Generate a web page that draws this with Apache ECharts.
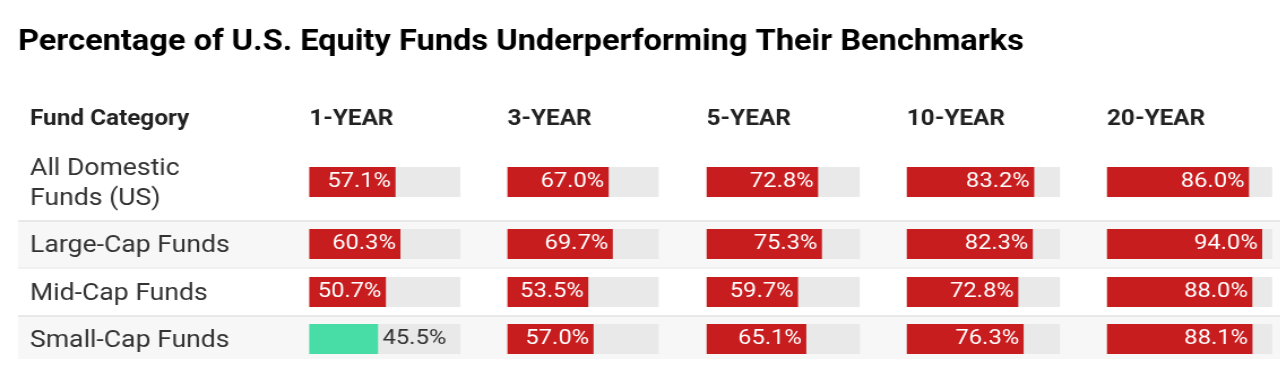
<!DOCTYPE html>
<html>
<head>
<meta charset="utf-8">
<script src="https://cdn.jsdelivr.net/npm/echarts@6/dist/echarts.min.js"></script>
<style>
  html, body { margin: 0; padding: 0; background: #ffffff; overflow: hidden; }
  #wrap { width: 1280px; height: 370px; overflow: hidden; }
  #chart { height: 370px; transform-origin: 0 0; }
</style>
</head>
<body>
<div id="wrap"><div id="chart"></div></div>
<script>
// ---- data ----
const chartTitle = 'Percentage of U.S. Equity Funds Underperforming Their Benchmarks';
const categoryHeader = 'Fund Category';
const categories = ['All Domestic\nFunds (US)', 'Large-Cap Funds', 'Mid-Cap Funds', 'Small-Cap Funds'];
const periods = ['1-YEAR', '3-YEAR', '5-YEAR', '10-YEAR', '20-YEAR'];
const oneYear = [57.1, 60.3, 50.7, 45.5];
const threeYear = [67.0, 69.7, 53.5, 57.0];
const fiveYear = [72.8, 75.3, 59.7, 65.1];
const tenYear = [83.2, 82.3, 72.8, 76.3];
const twentyYear = [86.0, 94.0, 88.0, 88.1];
const threshold = 50;

// ---- layout (reference pixels; text in the reference is drawn slightly wide) ----
const S = 1.13;                       // horizontal stretch of the whole picture
const W = 1280 / S;
const sx = v => v / S;
const seriesByPeriod = [oneYear, threeYear, fiveYear, tenYear, twentyYear];
const colLeft = [309, 507, 706, 906, 1106];
const colWidth = [151, 151, 153, 153, 165];
const rowTop = [167, 229, 277, 324];
const barH = 30;
const labelX = 30;
const FONT = 'Roboto, "Noto Sans", sans-serif';
const RED = '#c71d1f';
const GREEN = '#48dca6';

const el = document.getElementById('chart');
el.style.width = W + 'px';
el.style.transform = 'scaleX(' + S + ')';

const grids = [], xAxes = [], yAxes = [], series = [];
let gi = 0;
for (let r = 0; r < categories.length; r++) {
  for (let c = 0; c < periods.length; c++) {
    grids.push({ left: sx(colLeft[c]), top: rowTop[r], width: sx(colWidth[c]), height: barH, show: false });
    xAxes.push({ type: 'value', gridIndex: gi, min: 0, max: 100, show: false });
    yAxes.push({
      type: 'category', gridIndex: gi, data: [categories[r]],
      show: c === 0,
      axisLine: { show: false }, axisTick: { show: false }, splitLine: { show: false },
      axisLabel: {
        show: c === 0, margin: sx(colLeft[0] - labelX), align: 'left',
        fontFamily: FONT, fontSize: 23.5, color: '#333333', lineHeight: 30,
        formatter: s => s.split('\n').map(t => '{a|' + t + '}').join('\n'),
        rich: { a: { fontFamily: FONT, fontSize: 23.5, color: '#333333', lineHeight: 30, padding: [5, 0, 0, 0] } }
      }
    });
    const v = seriesByPeriod[c][r];
    const under = v >= threshold;
    series.push({
      type: 'bar', xAxisIndex: gi, yAxisIndex: gi, barWidth: '100%',
      showBackground: true, backgroundStyle: { color: '#e9e9e9' },
      silent: true, animation: false, z: 3,
      data: [{
        value: v,
        itemStyle: { color: under ? RED : GREEN },
        label: {
          show: true,
          position: under ? 'insideRight' : 'right',
          distance: 4,
          color: under ? '#ffffff' : '#333333',
          fontFamily: FONT, fontSize: 21,
          formatter: p => p.value.toFixed(1) + '%'
        }
      }]
    });
    gi++;
  }
}

const headStyle = { fontFamily: FONT, fontWeight: 'bold', fontSize: 21.5, color: '#222222', lineHeight: 26 };
const titles = [{
  text: chartTitle, left: sx(18), top: 26, padding: 0,
  textStyle: { fontFamily: FONT, fontWeight: 'bold', fontSize: 28.8, color: '#000000', lineHeight: 34 }
}, {
  text: categoryHeader, left: sx(labelX), top: 107, padding: 0, textStyle: headStyle
}];
periods.forEach((p, c) => titles.push({
  text: p, left: sx(colLeft[c]), top: 107, padding: 0, textStyle: headStyle
}));

const L = sx(18), R = W;
const graphics = [
  { type: 'rect', shape: { x: L, y: 221, width: R - L, height: 47 }, style: { fill: '#f7f7f7' }, z: 0, silent: true },
  { type: 'rect', shape: { x: L, y: 316, width: R - L, height: 43 }, style: { fill: '#f7f7f7' }, z: 0, silent: true },
  { type: 'line', shape: { x1: L, y1: 221, x2: R, y2: 221 }, style: { stroke: '#e2e2e2', lineWidth: 1.5 }, z: 1, silent: true },
  { type: 'line', shape: { x1: L, y1: 268, x2: R, y2: 268 }, style: { stroke: '#ececec', lineWidth: 1.5 }, z: 1, silent: true },
  { type: 'line', shape: { x1: L, y1: 316, x2: R, y2: 316 }, style: { stroke: '#e2e2e2', lineWidth: 1.5 }, z: 1, silent: true }
];

const chart = echarts.init(el, null, { renderer: 'canvas', width: W, height: 370 });
chart.setOption({
  backgroundColor: '#ffffff',
  animation: false,
  title: titles,
  graphic: graphics,
  grid: grids,
  xAxis: xAxes,
  yAxis: yAxes,
  series: series
});
</script>
</body>
</html>
